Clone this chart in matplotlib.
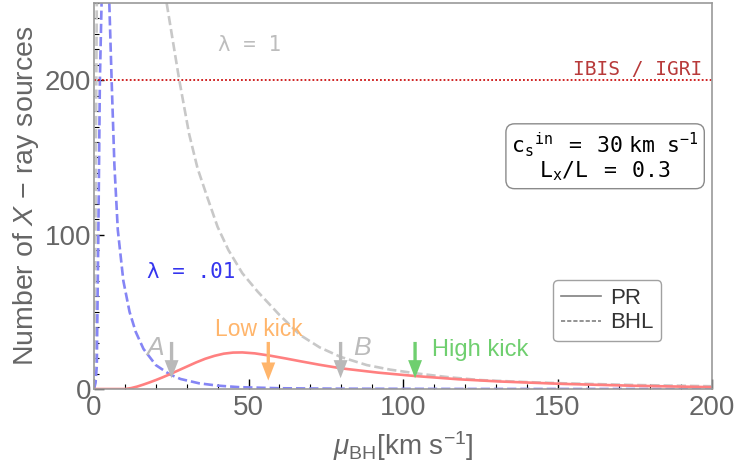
import numpy as np
import matplotlib
matplotlib.use("Agg")
from matplotlib import pyplot as plt
from matplotlib.lines import Line2D
from matplotlib.ticker import MultipleLocator

matplotlib.rcParams.update({
    "font.family": ["Liberation Sans", "DejaVu Sans"],
    "mathtext.fontset": "custom",
    "mathtext.rm": "Liberation Sans",
    "mathtext.it": "Liberation Sans:italic",
    "mathtext.tt": "DejaVu Sans Mono",
})

# BHL accretion, lambda = 0.01 (rising branch, then falling branch)
mu_bhl_low = [0, 0.5, 0.9, 1.4, 1.9, 2.5, np.nan,
              4.95, 5.7, 6.6, 7.7, 9.5, 11.5, 13.5, 16.0, 20.0, 24.5, 28.0,
              34.0, 40.0, 47.0, 60.0, 80.0, 120.0, 200.0]
n_bhl_low = [0, 4, 15, 100, 200, 255, np.nan,
             250, 200, 145, 103, 70, 50, 37, 26, 15.5, 9.5, 6.5,
             3.7, 2.2, 1.2, 0.5, 0.2, 0.05, 0.0]

# BHL accretion, lambda = 1
mu_bhl_one = [0, 0.3, 0.6, 0.9, np.nan,
              23.5, 27.6, 30.8, 33.5, 36.7, 40.0, 43.5, 48.0, 53.0, 60.0, 66.7,
              73.0, 79.8, 88.3, 96.0, 104.4, 115.0, 125.0, 140.0, 152.0, 175.0, 200.0]
n_bhl_one = [0, 40, 150, 255, np.nan,
             250, 200, 165, 143, 124, 105, 90, 75, 63, 48, 35,
             27, 20.8, 15.5, 12.5, 10.1, 7.6, 5.8, 4.5, 3.7, 2.6, 1.8]

# PR accretion
mu_pr = [0, 10, 12, 14, 16, 18, 20, 22, 24, 26, 28, 30, 33, 36, 39, 42, 45,
         48, 52, 57, 62, 67, 73, 80, 92, 104, 118, 131, 152, 175, 200]
n_pr = [0, 0, 0.6, 1.6, 2.9, 4.3, 5.8, 7.4, 9.1, 10.9, 12.7, 14.5, 17.2, 19.6,
        21.5, 22.9, 23.6, 23.7, 23.1, 21.6, 19.8, 17.9, 15.7, 13.4, 10.6,
        8.4, 6.3, 4.9, 3.3, 2.1, 1.2]

n_ibis = 200

# kick markers: position, arrow top, arrow tip
kick_names = ["A", "Low kick", "B", "High kick"]
kick_mu = [25.1, 56.4, 79.8, 103.9]
kick_top = [30.5, 30.5, 30.5, 30.5]
kick_tip = [7.0, 5.5, 7.0, 7.0]
kick_colors = ["#b9b9b9", "#ffb56b", "#b9b9b9", "#6fcf6f"]

fig = plt.figure(figsize=(7.42, 4.72), dpi=100)
ax = fig.add_axes([0.1267, 0.1758, 0.8329, 0.8178])

ax.plot(mu_bhl_one, n_bhl_one, color="#c8c8c8", lw=1.9, dashes=(3.5, 1.5))
ax.plot(mu_bhl_low, n_bhl_low, color="#8585f5", lw=1.9, dashes=(3.5, 1.5))
ax.plot(mu_pr, n_pr, color="#ff8080", lw=1.9)
ax.axhline(n_ibis, color="#cc1111", lw=1.3, ls=(0, (1, 1.2)))

for name, m, top, tip, c in zip(kick_names, kick_mu, kick_top, kick_tip, kick_colors):
    ax.annotate("", xy=(m, tip), xytext=(m, top),
                arrowprops=dict(arrowstyle="simple,head_length=1.3,head_width=1.0,tail_width=0.24",
                                mutation_scale=10, color=c, lw=0, shrinkA=0, shrinkB=0))

ax.text(19.7, 26.5, "A", color="#bbbbbb", fontsize=19, style="italic", ha="center", va="center")
ax.text(86.7, 26.5, "B", color="#bbbbbb", fontsize=19, style="italic", ha="center", va="center")
ax.text(53.2, 38.5, "Low kick", color="#ffb56b", fontsize=16.5, ha="center", va="center")
ax.text(109.5, 25.5, "High kick", color="#6fcf6f", fontsize=17, ha="left", va="center")

ax.text(40.1, 222.5, "λ = 1", color="#bdbdbd", fontsize=15, family="DejaVu Sans Mono",
        ha="left", va="center")
ax.text(17.2, 75.5, "λ = .01", color="#3535ee", fontsize=15, family="DejaVu Sans Mono",
        ha="left", va="center")
ax.text(196.8, 207, "IBIS / IGRI", color="#b83a3a", fontsize=14, family="DejaVu Sans Mono",
        ha="right", va="center")

box_txt = (r"$\mathtt{c_s}^{\mathtt{in}}\ \ \mathtt{=}\ \ \mathtt{30\ km}\ \ \mathtt{s}^{\mathtt{-1}}$" "\n"
           r"$\mathtt{L_x/L}\ \ \mathtt{=}\ \ \mathtt{0.3}$")
ax.text(165.4, 150.5, box_txt, fontsize=15.5, ha="center", va="center", color="black",
        linespacing=1.05,
        bbox=dict(boxstyle="round,pad=0.25,rounding_size=0.4", fc="white", ec="#8a8a8a", lw=1))

handles = [Line2D([], [], color="#808080", lw=1.2),
           Line2D([], [], color="#808080", lw=1.2, dashes=(2.5, 1.2))]
leg = ax.legend(handles, ["PR", "BHL"], loc="upper left", bbox_to_anchor=(0.743, 0.282),
                borderaxespad=0, fontsize=16, frameon=True, fancybox=True, handlelength=1.8,
                handletextpad=0.4, borderpad=0.35, labelspacing=0.15, labelcolor="#333333")
leg.get_frame().set_edgecolor("#8a8a8a")
leg.get_frame().set_linewidth(1.0)

ax.set_xlim(0, 200)
ax.set_ylim(0, 250)
ax.xaxis.set_major_locator(MultipleLocator(50))
ax.xaxis.set_minor_locator(MultipleLocator(10))
ax.yaxis.set_major_locator(MultipleLocator(100))
ax.yaxis.set_minor_locator(MultipleLocator(10))
ax.tick_params(which="both", direction="in", color="black", labelsize=20,
               labelcolor="#666666", top=False, right=False)
ax.tick_params(which="major", length=7, width=1)
ax.tick_params(which="minor", length=3.5, width=0.8)
ax.tick_params(axis="x", pad=4)
ax.tick_params(axis="y", pad=2)
for s in ax.spines.values():
    s.set_color("#9a9a9a")
    s.set_linewidth(1.2)

ax.set_xlabel(r"$\mu_{\mathrm{BH}}$[km s$^{-1}$]", fontsize=20, color="#666666", labelpad=6)
ax.set_ylabel(r"Number of $X$ $-$ ray sources", fontsize=20.5, color="#666666", labelpad=3)

fig.savefig("out.png", dpi=100)
